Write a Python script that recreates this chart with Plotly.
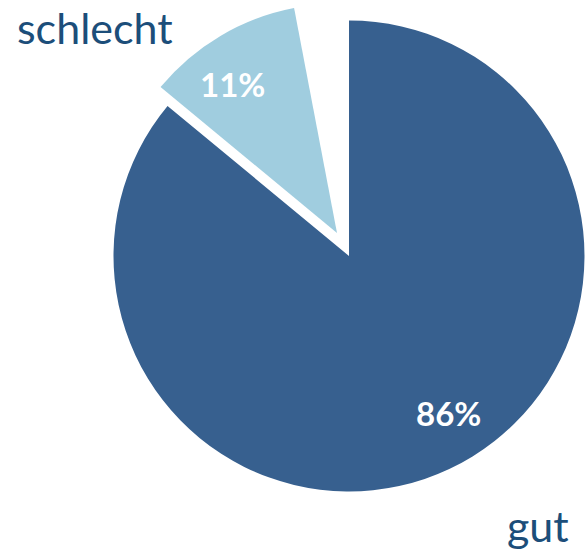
import plotly.graph_objects as go

# Survey answer shares (percent)
categories = ["gut", "schlecht", "keine Angabe"]
values = [86, 11, 3]
colors = ["#37608F", "#A0CDDF", "rgba(0,0,0,0)"]

W, H = 585, 550
total = sum(values)
pct = [round(100 * v / total) for v in values]


def px_domain(cx, cy, r):
    """Pie domain (paper fractions) for a pie centred at pixel (cx, cy) with radius r."""
    return dict(
        x=[(cx - r) / W, min((cx + r) / W, 1.0)],
        y=[(H - (cy + r)) / H, min((H - (cy - r)) / H, 1.0)],
    )


def only(idx, fill):
    return [fill if i == idx else "rgba(0,0,0,0)" for i in range(len(values))]


fig = go.Figure()

# main pie: "gut" slice
fig.add_trace(go.Pie(
    labels=categories, values=values, sort=False, direction="clockwise", rotation=0,
    marker=dict(colors=only(0, colors[0]), line=dict(width=0)),
    textinfo="none", hoverinfo="skip", showlegend=False,
    domain=px_domain(349, 256, 235.5),
))

# exploded "schlecht" slice, shifted outwards along its bisector
fig.add_trace(go.Pie(
    labels=categories, values=values, sort=False, direction="clockwise", rotation=0,
    marker=dict(colors=only(1, colors[1]), line=dict(width=0)),
    textinfo="none", hoverinfo="skip", showlegend=False,
    domain=px_domain(337, 233, 229),
))


def label(x, y, text, font):
    fig.add_annotation(x=x / W, y=1 - y / H, xref="paper", yref="paper",
                       xanchor="center", yanchor="middle",
                       text=text, showarrow=False, font=font)


pct_font = dict(family="Lato", size=33, color="white")
label(448, 413, f"<b>{pct[0]}%</b>", pct_font)
label(233, 84, f"<b>{pct[1]}%</b>", pct_font)

cat_font = dict(family="Lato", size=43, color="#1C4E7A")
label(95, 28, categories[1], cat_font)
label(538, 525, categories[0], cat_font)

fig.update_layout(
    width=W, height=H,
    margin=dict(l=0, r=0, t=0, b=0),
    paper_bgcolor="white", plot_bgcolor="white",
)

fig.write_html("out.html")
